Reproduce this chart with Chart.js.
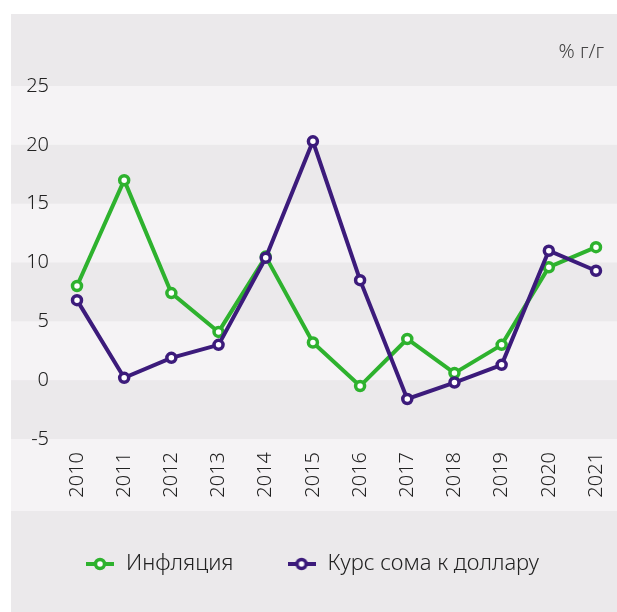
<!DOCTYPE html>
<html lang="ru">
<head>
    <meta charset="UTF-8">
    <title>Инфляция и курс сома</title>
    <script src="https://cdn.jsdelivr.net/npm/chart.js"></script>
    <style>
        body {
            margin: 0;
            background: #ffffff;
        }

        .wrap {
            width: 617px;
            height: 612px;
        }
    </style>
</head>
<body>

<div class="wrap">
    <canvas id="rateChart"></canvas>
</div>

<script>
    // значения, % г/г
    const years = ['2010', '2011', '2012', '2013', '2014', '2015', '2016', '2017', '2018', '2019', '2020', '2021'];
    const inflation = [8.0, 17.0, 7.4, 4.1, 10.5, 3.2, -0.5, 3.5, 0.6, 3.0, 9.6, 11.3];
    const somRate = [6.8, 0.2, 1.9, 3.0, 10.4, 20.3, 8.5, -1.6, -0.2, 1.3, 11.0, 9.3];
    const yTicks = [-5, 0, 5, 10, 15, 20, 25];

    const seriesNames = ['Инфляция', 'Курс сома к доллару'];
    const green = '#2eb22e';
    const purple = '#3c1b7b';
    const bandDark = '#ebe9eb';
    const bandLight = '#f5f3f5';
    const fontName = "'Noto Sans', sans-serif";

    // маленькая картинка для легенды: линия с кружком
    function legendMark(color) {
        const c = document.createElement('canvas');
        c.width = 28;
        c.height = 16;
        const g = c.getContext('2d');
        g.strokeStyle = color;
        g.lineWidth = 4;
        g.beginPath();
        g.moveTo(0, 8);
        g.lineTo(28, 8);
        g.stroke();
        g.fillStyle = '#ffffff';
        g.lineWidth = 3.5;
        g.beginPath();
        g.arc(14, 8, 4.5, 0, Math.PI * 2);
        g.fill();
        g.stroke();
        return c;
    }

    const marks = [legendMark(green), legendMark(purple)];

    const bands = {
        id: 'bands',
        beforeDraw(chart) {
            const {ctx, width, height} = chart;
            const y = chart.scales.y;
            const x = chart.scales.x;
            ctx.save();
            ctx.fillStyle = '#ffffff';
            ctx.fillRect(0, 0, width, height);
            ctx.fillStyle = bandDark;
            ctx.fillRect(11, 14, width - 11, height - 14);
            ctx.fillStyle = bandLight;
            for (let v = 0; v < 25; v += 10) {
                const top = y.getPixelForValue(v + 5);
                const bottom = y.getPixelForValue(v);
                ctx.fillRect(11, top, width - 11, bottom - top);
            }
            const low = y.getPixelForValue(-5);
            ctx.fillRect(11, low, width - 11, x.bottom + 11 - low);
            ctx.restore();
        }
    };

    new Chart(document.getElementById('rateChart').getContext('2d'), {
        type: 'line',
        data: {
            labels: years,
            datasets: [{
                label: seriesNames[0],
                data: inflation,
                borderColor: green,
                backgroundColor: '#ffffff',
                borderWidth: 4,
                pointRadius: 4.5,
                pointBorderWidth: 3.5,
                pointBackgroundColor: '#ffffff',
                pointBorderColor: green,
                tension: 0,
                order: 1
            }, {
                label: seriesNames[1],
                data: somRate,
                borderColor: purple,
                backgroundColor: '#ffffff',
                borderWidth: 4,
                pointRadius: 4.5,
                pointBorderWidth: 3.5,
                pointBackgroundColor: '#ffffff',
                pointBorderColor: purple,
                tension: 0,
                order: 0
            }]
        },
        options: {
            responsive: true,
            maintainAspectRatio: false,
            animation: false,
            layout: {
                padding: {left: 20, right: 13, top: 0, bottom: 27}
            },
            scales: {
                x: {
                    type: 'category',
                    offset: false,
                    grid: {display: false, drawTicks: false},
                    border: {display: false},
                    ticks: {
                        autoSkip: false,
                        maxRotation: 90,
                        minRotation: 90,
                        padding: 13,
                        color: '#222222',
                        font: {family: fontName, size: 20, weight: 300}
                    },
                    afterFit(scale) {
                        scale.height = 61;
                        scale.paddingLeft = 0;
                        scale.paddingRight = 0;
                    }
                },
                y: {
                    min: -5,
                    max: 25,
                    grid: {display: false, drawTicks: false},
                    border: {display: false},
                    afterBuildTicks(scale) {
                        scale.ticks = yTicks.map(v => ({value: v}));
                    },
                    ticks: {
                        padding: 28,
                        color: '#222222',
                        font: {family: fontName, size: 20, weight: 300}
                    },
                    afterFit(scale) {
                        scale.width = 57;
                    }
                },
                y2: {
                    position: 'right',
                    display: true,
                    grid: {display: false, drawTicks: false},
                    border: {display: false},
                    ticks: {display: false},
                    afterFit(scale) {
                        scale.width = 8;
                    }
                }
            },
            plugins: {
                tooltip: {enabled: false},
                title: {
                    display: true,
                    text: '% г/г',
                    align: 'end',
                    color: '#444444',
                    font: {family: fontName, size: 20, weight: 300},
                    padding: {top: 40, bottom: 22}
                },
                legend: {
                    position: 'bottom',
                    align: 'center',
                    labels: {
                        usePointStyle: true,
                        pointStyleWidth: 30,
                        padding: 53,
                        color: '#222222',
                        font: {family: fontName, size: 22, weight: 300},
                        sort: (a, b) => a.datasetIndex - b.datasetIndex,
                        generateLabels(chart) {
                            const items = Chart.defaults.plugins.legend.labels.generateLabels(chart);
                            items.forEach(item => {
                                item.pointStyle = marks[item.datasetIndex];
                            });
                            return items;
                        }
                    }
                }
            }
        },
        plugins: [bands]
    });
</script>

</body>
</html>
